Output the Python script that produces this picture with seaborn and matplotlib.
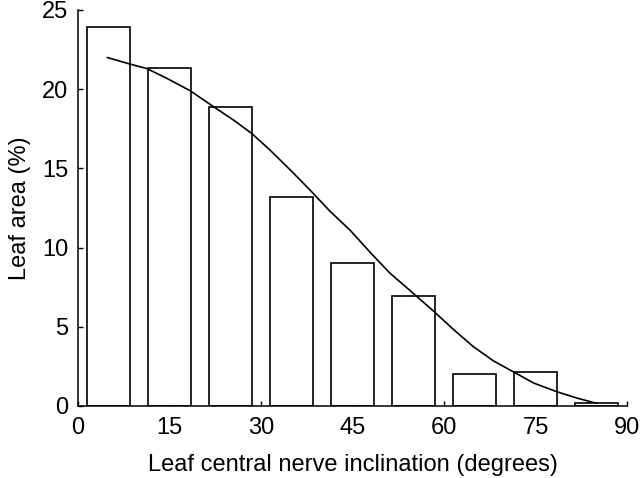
import matplotlib
matplotlib.use("Agg")
import matplotlib.pyplot as plt
import seaborn as sns
import pandas as pd

# Data
bin_centers = [5, 15, 25, 35, 45, 55, 65, 75, 85]
leaf_area = [23.9, 21.35, 18.9, 13.2, 9.05, 6.95, 2.0, 2.15, 0.2]

curve_x = [4.8, 8.4, 11.3, 14.5, 18.4, 22.2, 25.5, 28.5, 31.5, 34.8, 38.0,
           41.3, 44.6, 47.9, 51.1, 54.4, 58.4, 61.5, 64.8, 68.1, 71.4, 74.7,
           78.5, 81.8, 85.0]
curve_y = [22.0, 21.6, 21.3, 20.7, 19.9, 18.9, 18.05, 17.2, 16.15, 14.9,
           13.65, 12.3, 11.1, 9.7, 8.4, 7.3, 5.95, 4.85, 3.75, 2.85, 2.15,
           1.45, 0.9, 0.5, 0.17]

x_ticks = [0, 15, 30, 45, 60, 75, 90]
y_ticks = [0, 5, 10, 15, 20, 25]

sns.set_theme(style="ticks")
plt.rcParams['font.family'] = ['Liberation Sans', 'DejaVu Sans']

fig = plt.figure(figsize=(6.4, 4.78), dpi=100)
ax = fig.add_axes([78 / 640, 72 / 478, 549 / 640, 396 / 478])

bars = pd.DataFrame({"x": bin_centers, "y": leaf_area})
sns.barplot(data=bars, x="x", y="y", native_scale=True, width=0.7,
            color="white", saturation=1, edgecolor="black", linewidth=1.2,
            ax=ax)

curve = pd.DataFrame({"x": curve_x, "y": curve_y})
sns.lineplot(data=curve, x="x", y="y", color="black", linewidth=1.2, ax=ax)

ax.set_xlim(0, 90)
ax.set_ylim(0, 25)
ax.set_xticks(x_ticks)
ax.set_yticks(y_ticks)
ax.tick_params(direction="in", length=3.5, width=1.0, labelsize=17,
               colors="black")
ax.tick_params(axis="x", pad=8)
ax.tick_params(axis="y", pad=7)
sns.despine(ax=ax)
for s in ["left", "bottom"]:
    ax.spines[s].set_linewidth(1.1)
    ax.spines[s].set_color("black")

ax.set_xlabel("Leaf central nerve inclination (degrees)", fontsize=17,
              labelpad=11, color="black")
ax.set_ylabel("Leaf area (%)", fontsize=17, labelpad=8, color="black")

fig.savefig("out.png", dpi=100)
